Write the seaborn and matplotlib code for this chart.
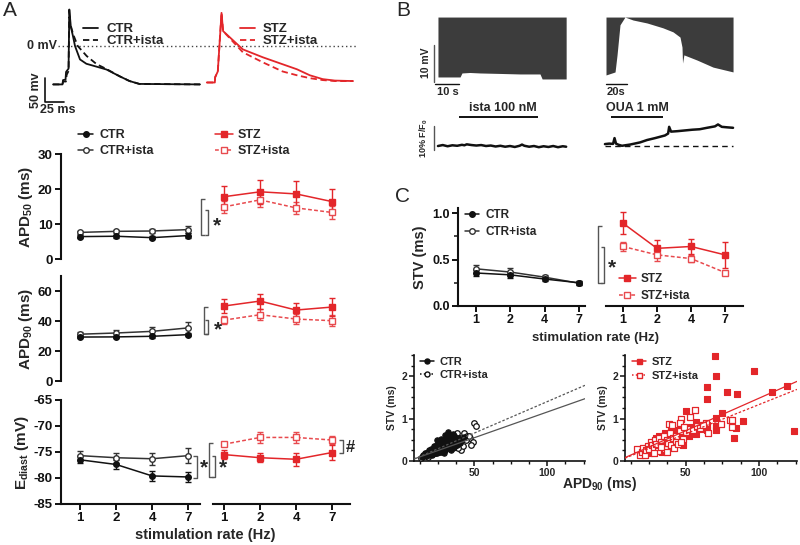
import numpy as np
import pandas as pd
import matplotlib
matplotlib.use("Agg")
import matplotlib.pyplot as plt
import seaborn as sns
from matplotlib.ticker import MultipleLocator, FormatStrFormatter
from matplotlib.lines import Line2D

# ---------------- data ----------------
rates = ['1', '2', '4', '7']

# Panel A - summary (mean, sem)
ctr_apd50 = [6.4, 6.5, 6.1, 6.7];      ctr_apd50_err = [0.5, 0.5, 0.5, 0.6]
ctri_apd50 = [7.6, 7.9, 8.0, 8.4];     ctri_apd50_err = [0.5, 0.5, 0.6, 0.9]
stz_apd50 = [17.8, 19.2, 18.6, 16.4];  stz_apd50_err = [3.1, 3.4, 3.7, 3.5]
stzi_apd50 = [14.9, 16.9, 14.6, 13.3]; stzi_apd50_err = [1.8, 2.0, 1.8, 1.8]

ctr_apd90 = [29.3, 29.4, 29.8, 30.9];  ctr_apd90_err = [0.8, 0.8, 0.8, 1.0]
ctri_apd90 = [31.2, 32.0, 33.1, 35.4]; ctri_apd90_err = [1.2, 2.0, 2.6, 4.0]
stz_apd90 = [50.0, 53.3, 47.3, 49.3];  stz_apd90_err = [4.5, 5.0, 4.8, 6.0]
stzi_apd90 = [40.6, 44.2, 41.3, 40.2]; stzi_apd90_err = [2.8, 3.5, 3.5, 3.8]

ctr_ed = [-76.5, -77.4, -79.6, -79.8];  ctr_ed_err = [0.7, 0.8, 0.9, 0.9]
ctri_ed = [-75.7, -76.1, -76.3, -75.7]; ctri_ed_err = [0.9, 1.0, 1.2, 1.4]
stz_ed = [-75.5, -76.1, -76.4, -75.1];  stz_ed_err = [0.8, 0.9, 1.2, 1.5]
stzi_ed = [-73.5, -72.2, -72.2, -72.7]; stzi_ed_err = [0.4, 1.1, 1.1, 0.8]

# Panel C - STV
ctr_stv = [0.355, 0.335, 0.29, 0.25];  ctr_stv_err = [0.03, 0.03, 0.02, 0.02]
ctri_stv = [0.40, 0.365, 0.31, 0.245]; ctri_stv_err = [0.04, 0.04, 0.02, 0.02]
stz_stv = [0.89, 0.62, 0.64, 0.55];    stz_stv_err = [0.12, 0.09, 0.08, 0.14]
stzi_stv = [0.64, 0.55, 0.51, 0.36];   stzi_stv_err = [0.05, 0.07, 0.04, 0.02]

# Panel A - AP traces (ms, mV)
ctr_t = [0, 12.5, 13.2, 16.5, 17.2, 20.5, 21.5, 23.5, 26.4, 29.0, 35.6, 44, 57.4, 70.6, 87.8, 101, 114, 194]
ctr_v = [-80, -80, -71, -70, -54, -47, 76, 40, 20, 0, -28, -37, -43, -49, -63, -73, -79, -80]
ctri_t = [0, 12.5, 13.2, 17, 18, 20.5, 21.3, 23, 26.4, 32.6, 44.5, 57.7, 70.6, 87.8, 101, 114, 194]
ctri_v = [-80, -80, -74, -74, -60, -52, 60, 45, 25, 0, -21, -38, -48, -63, -73, -79, -80]
stz_t = [0, 10.6, 11, 14.5, 19.4, 21.5, 30.4, 47.5, 73.9, 100, 119, 136, 153, 169, 193]
stz_v = [-76, -76, -65, -53, 69, 31, 18, -7, -23.5, -38, -48.5, -61, -69, -72, -73]
stzi_t = [0, 10.6, 11, 14.5, 19.4, 21.5, 30.4, 47.5, 73.9, 100, 119, 136, 153, 169, 193]
stzi_v = [-76, -76, -65, -53, 69, 31, 16, -13, -34, -53, -61, -67, -71, -73, -73]

# Panel B - membrane potential envelope (s, mV) and Ca traces (s, %F/F0)
ista_mv_t = [0, 9.2, 10.0, 13.3, 17.5, 25.9, 34.2, 42.5, 43.4, 53.4]
ista_mv_low = [0.54, 0.54, 1.62, 1.75, 1.62, 1.49, 1.35, 1.35, 0.0, 0.0]
oua_mv_t = [0, 8.6, 10.5, 13.3, 18, 25.7, 39, 54, 63.7, 70.3, 72.2, 72.7, 74, 86.5, 101.7, 120.7]
oua_mv_low = [1.08, 1.89, 6.5, 14.6, 16.7, 15.9, 15.1, 13.8, 12.7, 11.3, 8.6, 4.3, 6.5, 5.1, 3.2, 1.9]
mv_top = 16.7
ista_ca_t = [0, 2, 4, 6, 8, 10, 11, 12, 14, 16, 18, 20, 22, 24, 26, 28, 30, 32, 34, 35, 36, 38, 40, 42, 44, 46, 48, 50, 52, 53.4]
ista_ca_v = [0.0, 0.4, -0.1, 0.3, 0.1, 0.5, 0.3, 0.7, 0.4, 0.2, 0.4, 0.0, 0.2, -0.2, 0.1, -0.3, 0.0, -0.4, 0.1, 0.6, 0.1, -0.3, 0.0, -0.5, -0.1, -0.4, 0.0, -0.5, -0.1, -0.3]
oua_ca_t = [-1, 3, 6.7, 8.1, 9.5, 12, 15.2, 22.8, 32.3, 39, 46.6, 56, 59, 60, 61.8, 68, 75, 82, 89, 96, 103.5, 106.4, 110, 115, 120.7]
oua_ca_v = [0.8, 1.0, 0.9, 3.3, 1.0, 0.5, 0.1, 0.6, 1.5, 2.5, 3.3, 4.4, 5.2, 8.0, 6.0, 6.2, 6.5, 6.8, 7.0, 7.6, 8.2, 9.0, 8.0, 7.8, 7.6]
ista_period = [8.8, 41.7]
oua_period = [4.75, 54.2]

# Panel C - STV vs APD90 scatter
ctr_sc_x = [14, 15, 16, 17, 17, 18, 19, 19, 20, 20, 21, 21, 22, 22, 23, 23, 24, 24, 25, 25, 26, 26, 27, 27, 28, 28, 29, 29, 30, 30,
            31, 31, 32, 32, 33, 33, 34, 34, 35, 35, 36, 37, 38, 39, 40, 22, 24, 26, 28, 30, 32, 34, 36, 25, 27, 29, 31, 33, 35, 21,
            18, 20, 23, 26, 29, 33, 36, 38, 41, 43, 16, 19, 22, 25, 28, 31, 34, 37, 24, 27, 30, 33]
ctr_sc_y = [0.10, 0.13, 0.15, 0.12, 0.20, 0.18, 0.14, 0.25, 0.20, 0.28, 0.17, 0.24, 0.30, 0.22, 0.26, 0.35, 0.30, 0.49, 0.24, 0.38,
            0.33, 0.28, 0.40, 0.22, 0.45, 0.32, 0.36, 0.50, 0.42, 0.28, 0.55, 0.38, 0.69, 0.45, 0.35, 0.60, 0.48, 0.40, 0.52, 0.30,
            0.45, 0.50, 0.38, 0.55, 0.42, 0.36, 0.18, 0.46, 0.25, 0.62, 0.30, 0.27, 0.33, 0.42, 0.52, 0.20, 0.48, 0.58, 0.64, 0.15,
            0.22, 0.16, 0.19, 0.36, 0.26, 0.44, 0.58, 0.46, 0.50, 0.56, 0.18, 0.21, 0.27, 0.31, 0.37, 0.34, 0.42, 0.36, 0.26, 0.31, 0.48, 0.41]
ctri_sc_x = [13, 15, 17, 19, 21, 23, 25, 27, 29, 31, 33, 35, 37, 39, 41, 43, 45, 47, 49, 50, 51, 40, 44, 46, 48, 38, 36, 34, 32, 30,
             28, 26, 24, 22, 20, 18, 42, 39, 37, 35]
ctri_sc_y = [0.08, 0.12, 0.16, 0.15, 0.22, 0.20, 0.30, 0.28, 0.35, 0.40, 0.38, 0.45, 0.50, 0.42, 0.26, 0.67, 0.60, 0.55, 0.44, 0.90,
             0.82, 0.55, 0.50, 0.59, 0.38, 0.65, 0.58, 0.32, 0.48, 0.25, 0.40, 0.22, 0.34, 0.18, 0.26, 0.10, 0.35, 0.30, 0.44, 0.62]
stz_sc_x = [70.3, 70.5, 96.6, 64.2, 64.8, 78, 84.7, 108.7, 119, 124, 88.8, 82.9, 84.2, 75.1, 71, 70.5, 70.5, 64.4, 64.8, 60.7,
            57.3, 50, 53.9, 57, 52, 47.6, 20, 22, 24, 25, 27, 28, 29, 30, 31, 32, 33, 34, 35, 36, 37, 38, 39, 40, 41, 42, 43, 44,
            45, 46, 48, 26, 30, 34, 38, 42, 46, 32, 36, 40]
stz_sc_y = [2.47, 2.0, 2.12, 1.75, 1.46, 1.63, 1.57, 1.62, 1.76, 0.71, 0.95, 0.55, 0.78, 1.13, 1.01, 0.82, 0.74, 0.85, 0.73, 0.75,
            0.92, 1.18, 0.81, 0.64, 0.59, 0.41, 0.15, 0.20, 0.25, 0.18, 0.30, 0.35, 0.28, 0.55, 0.45, 0.38, 0.30, 0.50, 0.42, 0.65,
            0.35, 0.60, 0.48, 0.70, 0.40, 0.55, 0.62, 0.50, 0.72, 0.45, 0.38, 0.24, 0.27, 0.22, 0.30, 0.52, 0.58, 0.60, 0.32, 0.45]
stzi_sc_x = [56.2, 53.2, 47, 38.4, 40.6, 46.4, 63.5, 65.3, 74.4, 80.1, 81.5, 81.3, 16.9, 19, 20, 21, 22, 23, 24, 25, 26, 27, 28,
             29, 30, 31, 32, 33, 34, 35, 36, 37, 38, 39, 40, 41, 42, 43, 44, 45, 46, 48, 50, 52, 55, 58, 60, 62, 28, 33, 37, 43, 47, 49]
stzi_sc_y = [1.2, 1.03, 0.99, 0.87, 0.85, 0.89, 0.9, 0.66, 0.87, 0.96, 0.96, 0.8, 0.28, 0.15, 0.22, 0.30, 0.13, 0.25, 0.35, 0.28,
             0.45, 0.38, 0.30, 0.50, 0.40, 0.24, 0.55, 0.45, 0.35, 0.60, 0.28, 0.50, 0.42, 0.65, 0.38, 0.55, 0.30, 0.48, 0.62, 0.40,
             0.70, 0.52, 0.68, 0.76, 0.72, 0.82, 0.78, 0.85, 0.20, 0.33, 0.22, 0.58, 0.45, 0.80]
# linear fits (slope, intercept)
ctr_fit = [0.0121, -0.055]
ctri_fit = [0.0148, -0.080]
stz_fit = [0.0153, -0.050]
stzi_fit = [0.0138, -0.050]

# ---------------- style ----------------
sns.set_theme(style="ticks")
plt.rcParams['font.family'] = ['Liberation Sans', 'DejaVu Sans']
plt.rcParams['font.weight'] = 'bold'
plt.rcParams['axes.labelweight'] = 'bold'
plt.rcParams['axes.unicode_minus'] = False
plt.rcParams['mathtext.fontset'] = 'custom'
plt.rcParams['mathtext.rm'] = 'Liberation Sans:bold'
plt.rcParams['mathtext.bf'] = 'Liberation Sans:bold'
plt.rcParams['mathtext.it'] = 'Liberation Sans:bold'
plt.rcParams['mathtext.default'] = 'bf'

BLACK = '#111111'
GREY = '#333333'
RED = '#e3262a'
RED2 = '#e84a4e'
DARK = '#3c3c3c'

W, H = 800, 545
fig = plt.figure(figsize=(W / 100, H / 100), dpi=100)


def box(l, t, r, b):
    return [l / W, 1 - b / H, (r - l) / W, (b - t) / H]


xpos = np.arange(len(rates))


def cat_axes(rect, xlim, ylim, left=True, bottom=False, fs=9.5):
    ax = fig.add_axes(box(*rect))
    ax.set_xlim(xlim)
    ax.set_ylim(ylim)
    sns.despine(ax=ax, left=not left, bottom=not bottom)
    for s in ax.spines.values():
        s.set_linewidth(1.5)
        s.set_color(BLACK)
    ax.tick_params(labelsize=fs, width=1.4, length=4, color=BLACK, labelcolor=BLACK, pad=2)
    if not left:
        ax.tick_params(axis='y', left=False, labelleft=False)
    if bottom:
        ax.set_xticks(xpos)
        ax.set_xticklabels(rates)
    else:
        ax.tick_params(axis='x', bottom=False, labelbottom=False)
    ax.patch.set_alpha(0)
    ax.set_xlabel('')
    return ax


def series(ax, vals, errs, color, marker, filled, ls, ms=4.0):
    df = pd.DataFrame({'x': xpos, 'y': vals})
    ax.errorbar(df['x'], df['y'], yerr=errs, fmt='none', ecolor=color, elinewidth=1.0,
                capsize=2.5, capthick=1.0, zorder=2, clip_on=False)
    sns.lineplot(data=df, x='x', y='y', ax=ax, color=color, linestyle=ls, linewidth=1.1,
                 marker=marker, markersize=ms, markerfacecolor=(color if filled else 'white'),
                 markeredgecolor=color, markeredgewidth=1.0, errorbar=None, zorder=3, clip_on=False)
    ax.set_xlabel('')
    ax.set_ylabel('')


def handle(color, marker, filled, ls, ms=4.0):
    return Line2D([], [], color=color, linestyle=ls, linewidth=1.1, marker=marker, markersize=ms,
                  markerfacecolor=(color if filled else 'white'), markeredgecolor=color, markeredgewidth=1.0)


# overlay for annotations
ov = fig.add_axes([0, 0, 1, 1], zorder=20)
ov.set_xlim(0, W)
ov.set_ylim(H, 0)
ov.axis('off')
ov.patch.set_alpha(0)


def bracket(x, y0, y1, arm, color='#555555'):
    ov.plot([x + arm, x, x, x + arm], [y0, y0, y1, y1], color=color, lw=1.0, solid_capstyle='butt')


# ---------------- Panel A: traces ----------------
ax_tr = fig.add_axes(box(30, 0, 365, 115))
ax_tr.set_xlim(-30.4, 411.8)
ax_tr.set_ylim(-143.7, 95.8)
ax_tr.axis('off')
stz_offset = 203
ax_tr.hlines(0, 6.6, 402.6, colors='#444444', linestyles=(0, (1, 2)), lw=1.0)
sns.lineplot(x=ctr_t, y=ctr_v, ax=ax_tr, color=BLACK, lw=1.3, sort=False, errorbar=None)
sns.lineplot(x=ctri_t, y=ctri_v, ax=ax_tr, color=BLACK, lw=1.3, linestyle=(0, (3.5, 2)), sort=False, errorbar=None)
sns.lineplot(x=np.array(stz_t) + stz_offset, y=stz_v, ax=ax_tr, color=RED, lw=1.3, sort=False, errorbar=None)
sns.lineplot(x=np.array(stzi_t) + stz_offset, y=stzi_v, ax=ax_tr, color=RED, lw=1.3, linestyle=(0, (3.5, 2)), sort=False, errorbar=None)
ax_tr.set_xlabel(''); ax_tr.set_ylabel('')
ax_tr.plot([-10.6, -10.6, 14.4], [-66.7, -116.7, -116.7], color=BLACK, lw=1.2, clip_on=False)
ov.text(57, 46, '0 mV', ha='right', va='center', fontsize=9)
ov.text(36, 90, '50 mv', rotation=90, ha='center', va='center', fontsize=9)
ov.text(58, 110, '25 ms', ha='center', va='center', fontsize=9)
fig.legend(handles=[Line2D([], [], color=BLACK, lw=1.3), Line2D([], [], color=BLACK, lw=1.3, ls=(0, (3.5, 2)))],
           labels=['CTR', 'CTR+ista'], loc='upper left', bbox_to_anchor=(83 / W, 1 - 23 / H), frameon=False,
           fontsize=9.5, handlelength=1.15, handletextpad=0.6, labelspacing=0.0, borderpad=0, borderaxespad=0)
fig.legend(handles=[Line2D([], [], color=RED, lw=1.3), Line2D([], [], color=RED, lw=1.3, ls=(0, (3.5, 2)))],
           labels=['STZ', 'STZ+ista'], loc='upper left', bbox_to_anchor=(240 / W, 1 - 23 / H), frameon=False,
           fontsize=9.5, handlelength=1.15, handletextpad=0.6, labelspacing=0.0, borderpad=0, borderaxespad=0)

# ---------------- Panel A: summary ----------------
XL = (-0.53, 3.33)
XR = (-0.31, 3.5)
a50l = cat_axes((61, 154, 200, 259), XL, (0, 30))
a50r = cat_axes((213, 154, 350, 259), XR, (0, 30), left=False)
a90l = cat_axes((61, 276, 200, 381), XL, (0, 70))
a90r = cat_axes((213, 276, 350, 381), XR, (0, 70), left=False)
aedl = cat_axes((61, 400, 200, 504), XL, (-85, -65), bottom=True)
aedr = cat_axes((213, 400, 350, 504), XR, (-85, -65), left=False, bottom=True)
a50l.set_yticks([0, 10, 20, 30])
a90l.set_yticks([0, 20, 40, 60])
aedl.set_yticks([-85, -80, -75, -70, -65])

CTR_S = (BLACK, 'o', True, '-')
CTRI_S = (GREY, 'o', False, '-')
STZ_S = (RED, 's', True, '-')
STZI_S = (RED2, 's', False, (0, (2.5, 1.5)))

for axl, axr, a, ae, b, be, c, ce, d, de in [
        (a50l, a50r, ctr_apd50, ctr_apd50_err, ctri_apd50, ctri_apd50_err, stz_apd50, stz_apd50_err, stzi_apd50, stzi_apd50_err),
        (a90l, a90r, ctr_apd90, ctr_apd90_err, ctri_apd90, ctri_apd90_err, stz_apd90, stz_apd90_err, stzi_apd90, stzi_apd90_err),
        (aedl, aedr, ctr_ed, ctr_ed_err, ctri_ed, ctri_ed_err, stz_ed, stz_ed_err, stzi_ed, stzi_ed_err)]:
    series(axl, b, be, *CTRI_S)
    series(axl, a, ae, *CTR_S)
    series(axr, d, de, *STZI_S)
    series(axr, c, ce, *STZ_S)
    axl.set_xlim(XL); axr.set_xlim(XR)

a50l.set_ylabel('APD$_{50}$ (ms)', fontsize=11, labelpad=2)
a90l.set_ylabel('APD$_{90}$ (ms)', fontsize=11, labelpad=2)
aedl.set_ylabel('E$_{diast}$ (mV)', fontsize=11, labelpad=2)
ov.text(205, 535, 'stimulation rate (Hz)', ha='center', va='center', fontsize=10.5)

fig.legend(handles=[handle(*CTR_S), handle(*CTRI_S)], labels=['CTR', 'CTR+ista'], loc='upper left',
           bbox_to_anchor=(78 / W, 1 - 129 / H), frameon=False, fontsize=9, handlelength=1.2,
           handletextpad=0.5, labelspacing=0.35, borderpad=0, borderaxespad=0)
fig.legend(handles=[handle(*STZ_S), handle(*STZI_S)], labels=['STZ', 'STZ+ista'], loc='upper left',
           bbox_to_anchor=(215 / W, 1 - 129 / H), frameon=False, fontsize=9, handlelength=1.4,
           handletextpad=0.4, labelspacing=0.35, borderpad=0, borderaxespad=0)

# significance marks, panel A
bracket(201, 199, 235, 4)
bracket(208, 210, 235, -3)
ov.text(213, 226, '*', fontsize=15, ha='left', va='center')
bracket(204, 307, 334, 4)
bracket(208, 320, 334, -3)
ov.text(214, 330, '*', fontsize=15, ha='left', va='center')
bracket(197, 456, 478, -4)
ov.text(200, 468, '*', fontsize=15, ha='left', va='center')
bracket(209, 443, 477, 4)
bracket(215, 456, 477, -3)
ov.text(219, 468, '*', fontsize=15, ha='left', va='center')
bracket(343, 440, 453, -4)
ov.text(346, 447, '#', fontsize=12, ha='left', va='center')

# ---------------- Panel B ----------------
bTL = fig.add_axes(box(425, 10, 570, 100)); bTL.set_xlim(-5.4, 55.0); bTL.set_ylim(-5.67, 18.6)
bTR = fig.add_axes(box(600, 10, 740, 100)); bTR.set_xlim(-5.7, 127.3); bTR.set_ylim(-5.67, 18.6)
bBL = fig.add_axes(box(425, 100, 570, 155)); bBL.set_xlim(-5.4, 55.0); bBL.set_ylim(-3.75, 19.2)
bBR = fig.add_axes(box(600, 100, 740, 155)); bBR.set_xlim(-5.7, 127.3); bBR.set_ylim(-3.75, 19.2)
for a in (bTL, bTR, bBL, bBR):
    a.axis('off')
bTL.fill_between(ista_mv_t, ista_mv_low, mv_top, color=DARK, lw=0)
bTR.fill_between(oua_mv_t, oua_mv_low, mv_top, color=DARK, lw=0)
sns.lineplot(x=ista_ca_t, y=ista_ca_v, ax=bBL, color=BLACK, lw=1.8, sort=False, errorbar=None)
sns.lineplot(x=oua_ca_t, y=oua_ca_v, ax=bBR, color=BLACK, lw=1.8, sort=False, errorbar=None)
bBR.hlines(0, -1, 120.7, colors=BLACK, linestyles=(0, (4, 3)), lw=1.0)
bBL.hlines(12.1, ista_period[0], ista_period[1], colors=BLACK, lw=1.4)
bBR.hlines(12.1, oua_period[0], oua_period[1], colors=BLACK, lw=1.4)
for a in (bBL, bBR):
    a.set_xlabel(''); a.set_ylabel('')
# scale bars
bTL.plot([-1.67, -1.67], [-0.8, 9.2], color='#555555', lw=1.0, clip_on=False)
bTL.plot([-1.25, 8.75], [-1.35, -1.35], color=BLACK, lw=1.0, clip_on=False)
bTR.plot([0, 20], [-1.35, -1.35], color=BLACK, lw=1.0, clip_on=False)
bBL.plot([-1.67, -1.67], [8.3, -1.7], color='#555555', lw=1.0, clip_on=False)
ov.text(426, 63, '10 mV', rotation=90, ha='center', va='center', fontsize=7.5)
ov.text(448, 92, '10 s', ha='center', va='center', fontsize=8)
ov.text(616, 92, '20s', ha='center', va='center', fontsize=8)
ov.text(424, 138, '10% F/F$_0$', rotation=90, ha='center', va='center', fontsize=6.5)
ov.text(503, 108, 'ista 100 nM', ha='center', va='center', fontsize=9)
ov.text(637, 108, 'OUA 1 mM', ha='center', va='center', fontsize=9)

# ---------------- Panel C: STV ----------------
cL = cat_axes((458, 208, 585, 306), (-0.525, 3.175), (0, 1.054), bottom=True, fs=9)
cR = cat_axes((606, 208, 743, 306), (-0.5, 3.53), (0, 1.054), left=False, bottom=True, fs=9)
cL.set_yticks([0, 0.5, 1.0])
cL.yaxis.set_minor_locator(MultipleLocator(0.25))
cL.yaxis.set_major_formatter(FormatStrFormatter('%.1f'))
cL.tick_params(axis='y', which='minor', length=3, width=1.2)
series(cL, ctri_stv, ctri_stv_err, *CTRI_S)
series(cL, ctr_stv, ctr_stv_err, *CTR_S)
series(cR, stzi_stv, stzi_stv_err, *STZI_S)
series(cR, stz_stv, stz_stv_err, *STZ_S)
cL.set_xlim(-0.525, 3.175); cR.set_xlim(-0.5, 3.53)
cL.set_ylabel('STV (ms)', fontsize=10.5, labelpad=4)
ov.text(595, 338, 'stimulation rate (Hz)', ha='center', va='center', fontsize=9.5)
cL.legend(handles=[handle(*CTR_S), handle(*CTRI_S)], labels=['CTR', 'CTR+ista'], loc='upper left',
          bbox_to_anchor=(465 / W, 1 - 209 / H), bbox_transform=fig.transFigure, frameon=False, fontsize=8.5,
          handlelength=1.2, handletextpad=0.5, labelspacing=0.45, borderpad=0, borderaxespad=0)
cR.legend(handles=[handle(*STZ_S), handle(*STZI_S)], labels=['STZ', 'STZ+ista'], loc='upper left',
          bbox_to_anchor=(619 / W, 1 - 273 / H), bbox_transform=fig.transFigure, frameon=False, fontsize=8.5,
          handlelength=1.4, handletextpad=0.4, labelspacing=0.45, borderpad=0, borderaxespad=0)
bracket(598, 226, 283, 4)
bracket(604, 247, 283, -3)
ov.text(608, 268, '*', fontsize=15, ha='left', va='center')

# ---------------- Panel C: scatter ----------------
def scatter_axes(rect):
    ax = fig.add_axes(box(*rect))
    ax.set_xlim(8.5, 126)
    ax.set_ylim(0, 2.5)
    sns.despine(ax=ax)
    for s in ax.spines.values():
        s.set_linewidth(1.2)
        s.set_color(BLACK)
    ax.set_xticks([50, 100])
    ax.set_yticks([0, 1, 2])
    ax.xaxis.set_minor_locator(MultipleLocator(12.5))
    ax.yaxis.set_minor_locator(MultipleLocator(0.25))
    ax.tick_params(labelsize=7.5, width=1.1, length=3.5, color=BLACK, pad=1.5)
    ax.tick_params(which='minor', width=1.0, length=2.5, color=BLACK)
    ax.patch.set_alpha(0)
    return ax


sL = scatter_axes((414, 355, 585, 461))
sR = scatter_axes((625, 355, 797, 461))
sns.scatterplot(x=ctri_sc_x, y=ctri_sc_y, ax=sL, marker='o', s=16, facecolor='white', edgecolor=BLACK, linewidth=0.9, zorder=3, clip_on=False)
sns.scatterplot(x=ctr_sc_x, y=ctr_sc_y, ax=sL, marker='o', s=15, color=BLACK, edgecolor=BLACK, linewidth=0.8, zorder=4, clip_on=False)
sns.scatterplot(x=stz_sc_x, y=stz_sc_y, ax=sR, marker='s', s=16, color=RED, edgecolor=RED, linewidth=0.8, zorder=3, clip_on=False)
sns.scatterplot(x=stzi_sc_x, y=stzi_sc_y, ax=sR, marker='s', s=18, facecolor='white', edgecolor=RED, linewidth=0.9, zorder=4, clip_on=False)
sL.axline((0, ctr_fit[1]), slope=ctr_fit[0], color='#555555', lw=0.9, zorder=5)
sL.axline((0, ctri_fit[1]), slope=ctri_fit[0], color='#555555', lw=0.9, ls=(0, (2, 1.5)), zorder=5)
sR.axline((0, stz_fit[1]), slope=stz_fit[0], color=RED, lw=0.9, zorder=5)
sR.axline((0, stzi_fit[1]), slope=stzi_fit[0], color=RED, lw=0.9, ls=(0, (2, 1.5)), zorder=5)
for a in (sL, sR):
    a.set_ylabel('STV (ms)', fontsize=7.5, labelpad=3)
    a.set_xlabel('')
sL.legend(handles=[handle(BLACK, 'o', True, '-', 3.6), handle(BLACK, 'o', False, (0, (1, 1.5)), 3.6)],
          labels=['CTR', 'CTR+ista'], loc='upper left', bbox_to_anchor=(420 / W, 1 - 357 / H),
          bbox_transform=fig.transFigure, frameon=False, fontsize=8, handlelength=1.3, handletextpad=0.5,
          labelspacing=0.25, borderpad=0, borderaxespad=0)
sR.legend(handles=[handle(RED, 's', True, '-', 3.6), handle(RED, 's', False, (0, (1, 1.5)), 3.6)],
          labels=['STZ', 'STZ+ista'], loc='upper left', bbox_to_anchor=(632 / W, 1 - 357 / H),
          bbox_transform=fig.transFigure, frameon=False, fontsize=8, handlelength=1.3, handletextpad=0.5,
          labelspacing=0.35, borderpad=0, borderaxespad=0)
ov.text(600, 484, 'APD$_{90}$ (ms)', ha='center', va='center', fontsize=10)

# panel letters
ov.text(10, 10, 'A', fontsize=15, fontweight='normal', ha='center', va='center')
ov.text(403, 10, 'B', fontsize=15, fontweight='normal', ha='center', va='center')
ov.text(403, 197, 'C', fontsize=15, fontweight='normal', ha='center', va='center')

fig.savefig('out.png', dpi=100)
